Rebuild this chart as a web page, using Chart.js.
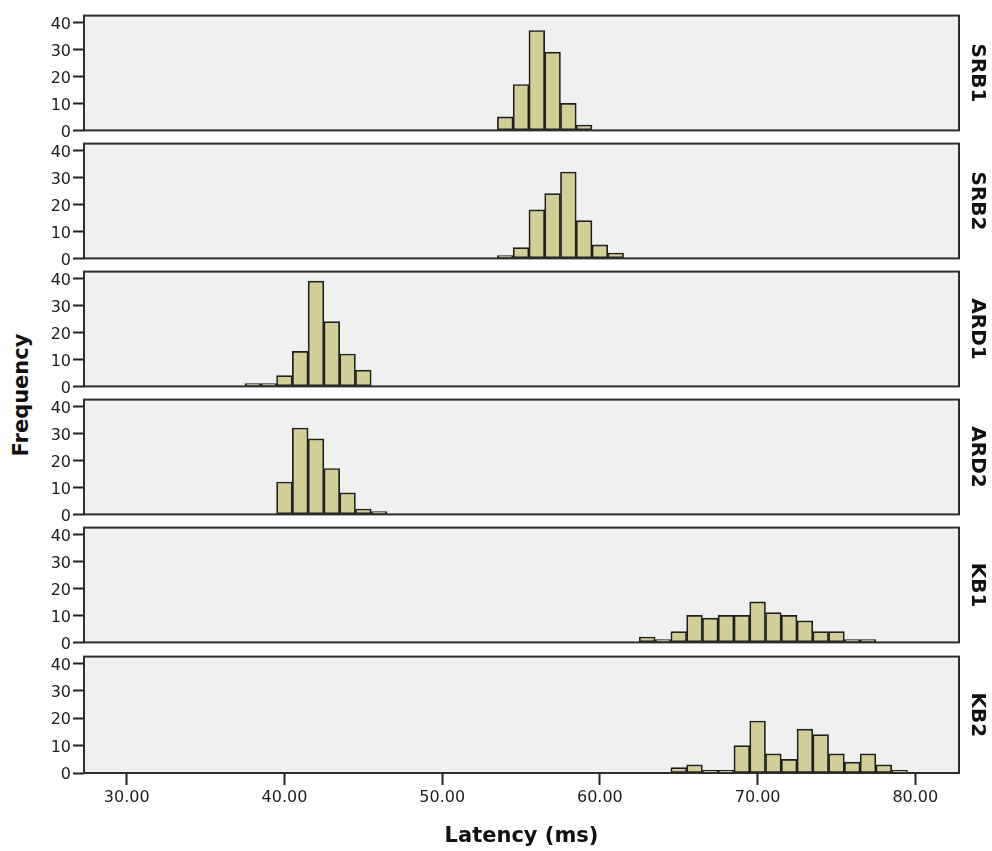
<!DOCTYPE html>
<html>
<head>
<meta charset="utf-8">
<script src="https://cdn.jsdelivr.net/npm/chart.js@4.4.1/dist/chart.umd.min.js"></script>
<style>
  html, body { margin: 0; padding: 0; background: #fff; }
  #wrap { position: relative; width: 992px; height: 851px; overflow: hidden; }
  #wrap canvas { position: absolute; left: 0; }
  #freq {
    position: absolute; left: 21px; top: 395px;
    transform: translate(-50%, -50%) rotate(-90deg);
    font: bold 21px "DejaVu Sans", sans-serif; color: #111;
    white-space: nowrap; line-height: 1;
  }
</style>
</head>
<body>
<div id="wrap"><div id="freq">Frequency</div></div>
<script>
// histogram bins (ms) and counts
const srb1Latency = [54, 55, 56, 57, 58, 59];
const srb1Freq    = [5, 17, 37, 29, 10, 2];
const srb2Latency = [54, 55, 56, 57, 58, 59, 60, 61];
const srb2Freq    = [1, 4, 18, 24, 32, 14, 5, 2];
const ard1Latency = [38, 39, 40, 41, 42, 43, 44, 45];
const ard1Freq    = [1, 1, 4, 13, 39, 24, 12, 6];
const ard2Latency = [40, 41, 42, 43, 44, 45, 46];
const ard2Freq    = [12, 32, 28, 17, 8, 2, 1];
const kb1Latency  = [63, 64, 65, 66, 67, 68, 69, 70, 71, 72, 73, 74, 75, 76, 77];
const kb1Freq     = [2, 1, 4, 10, 9, 10, 10, 15, 11, 10, 8, 4, 4, 1, 1];
const kb2Latency  = [65, 66, 67, 68, 69, 70, 71, 72, 73, 74, 75, 76, 77, 78, 79];
const kb2Freq     = [2, 3, 1, 1, 10, 19, 7, 5, 16, 14, 7, 4, 7, 3, 1];

const panelNames = ["SRB1", "SRB2", "ARD1", "ARD2", "KB1", "KB2"];
const xTicks = [30, 40, 50, 60, 70, 80];
const yTicks = [0, 10, 20, 30, 40];

const panels = [
  [srb1Latency, srb1Freq], [srb2Latency, srb2Freq],
  [ard1Latency, ard1Freq], [ard2Latency, ard2Freq],
  [kb1Latency, kb1Freq], [kb2Latency, kb2Freq],
];

// layout
const panelTops = [14, 142, 270, 398, 526, 655];
const PLOT_H = 118;
const PAD = 10;
const X_MIN = 27.29, X_MAX = 82.77;
const Y_MAX = 42.5;
const FONT = "DejaVu Sans";

// grey panel background + dark frame
const panelFrame = {
  id: "panelFrame",
  beforeDatasetsDraw(chart) {
    const { ctx, chartArea: a } = chart;
    ctx.save();
    ctx.fillStyle = "#f0f0f0";
    ctx.fillRect(a.left, a.top, a.width, a.height);
    ctx.restore();
  },
  afterDatasetsDraw(chart) {
    const { ctx, chartArea: a } = chart;
    ctx.save();
    ctx.strokeStyle = "#2e2e2e";
    ctx.lineWidth = 2;
    ctx.strokeRect(a.left, a.top, a.width, a.height);
    ctx.restore();
  },
};

const wrap = document.getElementById("wrap");

panels.forEach(([latency, freq], i) => {
  const isLast = i === panels.length - 1;
  const top = panelTops[i] - PAD;
  const height = isLast ? 851 - top : PLOT_H + PAD * 2;

  const canvas = document.createElement("canvas");
  canvas.width = 992;
  canvas.height = height;
  canvas.style.top = top + "px";
  wrap.appendChild(canvas);

  const xScale = {
    type: "linear",
    min: X_MIN,
    max: X_MAX,
    offset: false,
    display: isLast,
    afterBuildTicks: (s) => { s.ticks = xTicks.map((v) => ({ value: v })); },
    grid: { drawOnChartArea: false, offset: false, tickLength: 12, tickWidth: 2, tickColor: "#222" },
    border: { display: false },
    ticks: {
      padding: 3, color: "#1e1e1e", maxRotation: 0, autoSkip: false,
      font: { family: FONT, size: 16 },
      callback: (v) => Number(v).toFixed(2),
    },
    title: {
      display: true, text: "Latency (ms)", color: "#111",
      font: { family: FONT, size: 21, weight: "bold" },
      padding: { top: 0, bottom: 2 },
    },
  };
  if (isLast) xScale.afterFit = (s) => { s.height = height - PAD - PLOT_H; };

  new Chart(canvas, {
    type: "bar",
    data: {
      datasets: [{
        data: latency.map((x, k) => ({ x, y: freq[k] })),
        backgroundColor: "#d3ce97",
        borderColor: "#1f1f1f",
        borderWidth: 1.7,
        borderSkipped: false,
        barPercentage: 1,
        categoryPercentage: 1,
      }],
    },
    options: {
      responsive: false,
      animation: false,
      devicePixelRatio: 1,
      layout: { padding: { top: PAD, bottom: isLast ? 0 : PAD, left: 0, right: 0 } },
      plugins: {
        legend: { display: false },
        tooltip: { enabled: false },
        title: {
          display: true,
          text: panelNames[i],
          position: "right",
          fullSize: false,
          color: "#111",
          font: { family: FONT, size: 20, weight: "bold" },
          padding: { top: 3, bottom: 6 },
        },
      },
      scales: {
        x: xScale,
        y: {
          min: 0,
          max: Y_MAX,
          afterBuildTicks: (s) => { s.ticks = yTicks.map((v) => ({ value: v })); },
          grid: { drawOnChartArea: false, tickLength: 11, tickWidth: 2, tickColor: "#222" },
          border: { display: false },
          ticks: { padding: 2, labelOffset: 2, color: "#1e1e1e", font: { family: FONT, size: 16 } },
          afterFit: (s) => { s.width = 84; },
        },
      },
    },
    plugins: [panelFrame],
  });
});
</script>
</body>
</html>
